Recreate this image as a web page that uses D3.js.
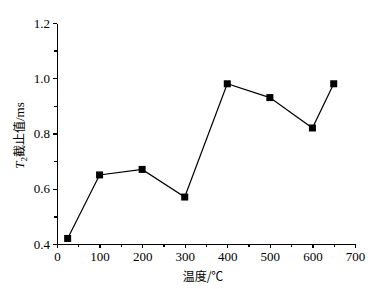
<!DOCTYPE html>
<html>
<head>
<meta charset="utf-8">
<script src="https://cdn.jsdelivr.net/npm/d3@7/dist/d3.min.js"></script>
<style>
    body { margin: 0; background: #fff; }
    .axis path, .axis line { fill: none; stroke: #000; stroke-width: 1.3; shape-rendering: crispEdges; }
    .axis text { font-family: "Liberation Serif", serif; font-size: 13px; fill: #000; }
    .label { font-family: "Noto Sans CJK SC", sans-serif; font-size: 12px; fill: #000; }
</style>
</head>
<body>
<svg id="chart"></svg>
<script>
    var temps = [25, 100, 200, 300, 400, 500, 600, 650];
    var cutoffs = [0.42, 0.65, 0.67, 0.57, 0.98, 0.93, 0.82, 0.98];
    var xTicks = [0, 100, 200, 300, 400, 500, 600, 700];
    var yTicks = [0.4, 0.6, 0.8, 1.0, 1.2];

    var margin = { top: 23, left: 57, bottom: 45, right: 27 },
        width = 382 - margin.left - margin.right,
        height = 289 - margin.top - margin.bottom;

    var svg = d3.select("#chart")
        .attr("width", 382)
        .attr("height", 289)
        .append("g")
        .attr("transform", "translate(" + margin.left + "," + margin.top + ")");

    var x = d3.scaleLinear().domain([0, 700]).range([0, width]);
    var y = d3.scaleLinear().domain([0.4, 1.2]).range([height, 0]);

    // minor ticks
    svg.append("g")
        .attr("class", "axis")
        .attr("transform", "translate(0," + height + ")")
        .call(d3.axisBottom(x).tickValues(d3.range(50, 700, 100)).tickSize(3).tickFormat(""))
        .select(".domain").remove();
    svg.append("g")
        .attr("class", "axis")
        .call(d3.axisLeft(y).tickValues([0.5, 0.7, 0.9, 1.1]).tickSize(3).tickFormat(""))
        .select(".domain").remove();

    svg.append("g")
        .attr("class", "axis")
        .attr("transform", "translate(0," + height + ")")
        .call(d3.axisBottom(x).tickValues(xTicks).tickSize(4).tickSizeOuter(0).tickPadding(4));

    svg.append("g")
        .attr("class", "axis")
        .call(d3.axisLeft(y).tickValues(yTicks).tickSize(4).tickSizeOuter(0).tickPadding(3)
            .tickFormat(d3.format(".1f")));

    var pts = temps.map(function (t, i) { return [t, cutoffs[i]]; });

    svg.append("path")
        .datum(pts)
        .attr("fill", "none")
        .attr("stroke", "#000")
        .attr("stroke-width", 1.2)
        .attr("d", d3.line()
            .x(function (d) { return x(d[0]); })
            .y(function (d) { return y(d[1]); }));

    svg.selectAll(".pt")
        .data(pts)
        .enter().append("rect")
        .attr("class", "pt")
        .attr("x", function (d) { return x(d[0]) - 3.5; })
        .attr("y", function (d) { return y(d[1]) - 3.5; })
        .attr("width", 7)
        .attr("height", 7)
        .attr("fill", "#000");

    svg.append("text")
        .attr("class", "label")
        .attr("text-anchor", "middle")
        .attr("x", width / 2 - 3)
        .attr("y", height + 37)
        .text("温度/℃");

    var yl = svg.append("text")
        .attr("class", "label")
        .attr("text-anchor", "middle")
        .attr("transform", "translate(-33," + (height / 2 + 2) + ") rotate(-90)");
    yl.append("tspan")
        .style("font-family", "Liberation Serif, serif")
        .style("font-style", "italic")
        .style("font-size", "13px")
        .text("T");
    yl.append("tspan")
        .style("font-family", "Liberation Serif, serif")
        .style("font-size", "9px")
        .attr("dy", 3)
        .text("2");
    yl.append("tspan")
        .attr("dy", -3)
        .text("截止值");
    yl.append("tspan")
        .style("font-family", "Liberation Serif, serif")
        .style("font-size", "13px")
        .text("/ms");
</script>
</body>
</html>
